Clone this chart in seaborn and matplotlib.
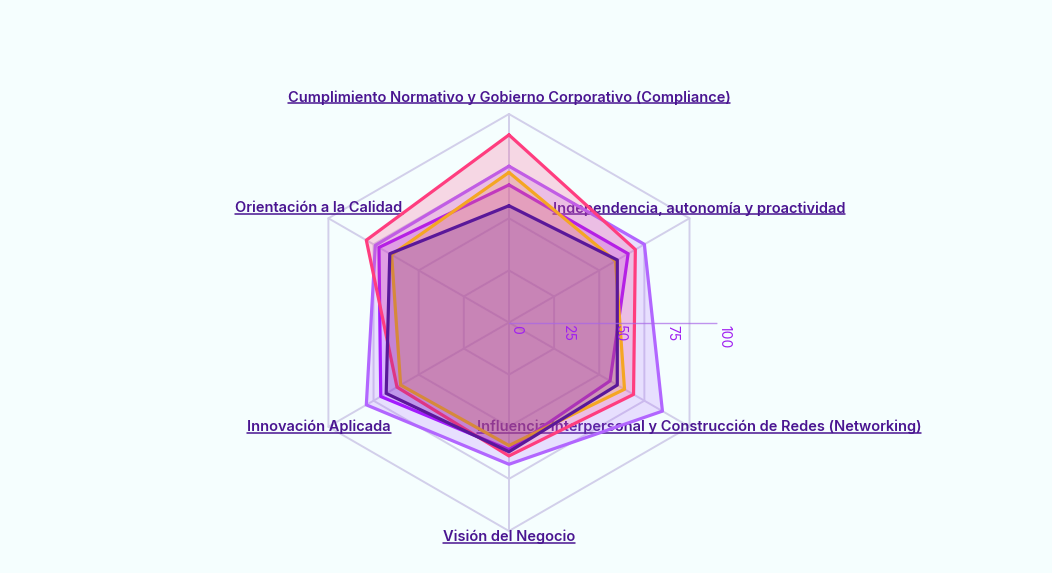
import numpy as np
import pandas as pd
import matplotlib
matplotlib.use('Agg')
import matplotlib.pyplot as plt
import seaborn as sns
from matplotlib.lines import Line2D

# Competency axes, clockwise from the top
categories = [
    'Cumplimiento Normativo y Gobierno Corporativo (Compliance)',
    'Independencia, autonomía y proactividad',
    'Influencia Interpersonal y Construcción de Redes (Networking)',
    'Visión del Negocio',
    'Innovación Aplicada',
    'Orientación a la Calidad',
]

# Scores per profile (0-100)
serie_lila = [75, 75, 85, 68, 79, 74]
serie_violeta = [66, 66, 56, 61, 71, 72]
serie_rosa = [90, 70, 69, 64, 62, 79]
serie_naranja = [72, 59, 64, 59, 60, 65]
serie_morado = [56, 60, 60, 62, 68, 66]

series_names = ['Lila', 'Violeta', 'Rosa', 'Naranja', 'Morado']
series_values = [serie_lila, serie_violeta, serie_rosa, serie_naranja, serie_morado]
series_colors = ['#b266ff', '#a31aff', '#ff3d7f', '#f5a623', '#5a189a']

radial_ticks = [0, 25, 50, 75, 100]

BG = '#f5fefe'
LABEL_COLOR = '#4a1591'
TICK_COLOR = '#a020f0'
GRID_COLOR = '#d2cfea'

sns.set_theme(style='white')
plt.rcParams['font.family'] = ['Inter', 'DejaVu Sans']

fig = plt.figure(figsize=(10.52, 5.73), dpi=100, facecolor=BG)
ax = fig.add_axes([0.2856, 0.0733, 0.3964, 0.7277], projection='polar')
ax.set_theta_offset(np.pi / 2)
ax.set_theta_direction(-1)
ax.set_ylim(0, 100)
ax.patch.set_alpha(0)
ax.spines['polar'].set_visible(False)
ax.grid(False)

n = len(categories)
angles = np.linspace(0, 2 * np.pi, n, endpoint=False)
closed = np.append(angles, 2 * np.pi)

# hexagonal grid rings and spokes
for r in radial_ticks[1:]:
    ax.plot(closed, [r] * (n + 1), color=GRID_COLOR, lw=1.4, zorder=1, clip_on=False)
for a in angles:
    ax.plot([a, a], [0, 100], color=GRID_COLOR, lw=1.4, zorder=1, clip_on=False)

# one fill + outline per profile, stacked in order
rows = []
for name, vals in zip(series_names, series_values):
    for a, v in zip(closed, vals + vals[:1]):
        rows.append({'serie': name, 'angle': a, 'valor': v})
df = pd.DataFrame(rows)

for i, (name, color) in enumerate(zip(series_names, series_colors)):
    sub = df[df['serie'] == name]
    ax.fill(sub['angle'], sub['valor'], color=color, alpha=0.2, lw=0, zorder=3 + 2 * i)
    sns.lineplot(data=sub, x='angle', y='valor', color=color, lw=2.3, estimator=None,
                 sort=True, legend=False, ax=ax, zorder=4 + 2 * i)
ax.set_xlabel('')
ax.set_ylabel('')
ax.set_xticks([])
ax.set_yticks([])
ax.set_ylim(0, 100)

# radial axis line and tick labels pointing right
ax.plot([np.pi / 2, np.pi / 2], [0, 100], color='#a866e8', lw=1.0, alpha=0.7, zorder=20)
for t in radial_ticks:
    ax.annotate(str(t), xy=(np.pi / 2, t), xytext=(0, -1.5), textcoords='offset points',
                rotation=-90, ha='left', va='top', fontsize=10, color=TICK_COLOR, zorder=21)

# angular labels, placed around the outer vertices
offsets = [(0, 12), (6.8, 7.2), (6.8, 0), (0, -4.5), (-6.8, 0), (-6.8, 7.2)]
label_texts = []
for a, cat, off in zip(angles, categories, offsets):
    t = ax.annotate(cat, xy=(a, 100), xytext=off, textcoords='offset points',
                    ha='center', va='center', fontsize=10.5, fontweight='semibold',
                    color=LABEL_COLOR, zorder=2, annotation_clip=False)
    label_texts.append(t)

# underline the labels
fig.canvas.draw()
renderer = fig.canvas.get_renderer()
inv = ax.transAxes.inverted()
for t in label_texts:
    bb = t.get_window_extent(renderer)
    y = bb.y0 + 1.5
    (x0, y0), (x1, y1) = inv.transform([(bb.x0, y), (bb.x1, y)])
    ax.add_line(Line2D([x0, x1], [y0, y1], transform=ax.transAxes, color=LABEL_COLOR,
                       lw=1.1, clip_on=False, zorder=2))

fig.savefig('out.png', dpi=100, facecolor=BG)
